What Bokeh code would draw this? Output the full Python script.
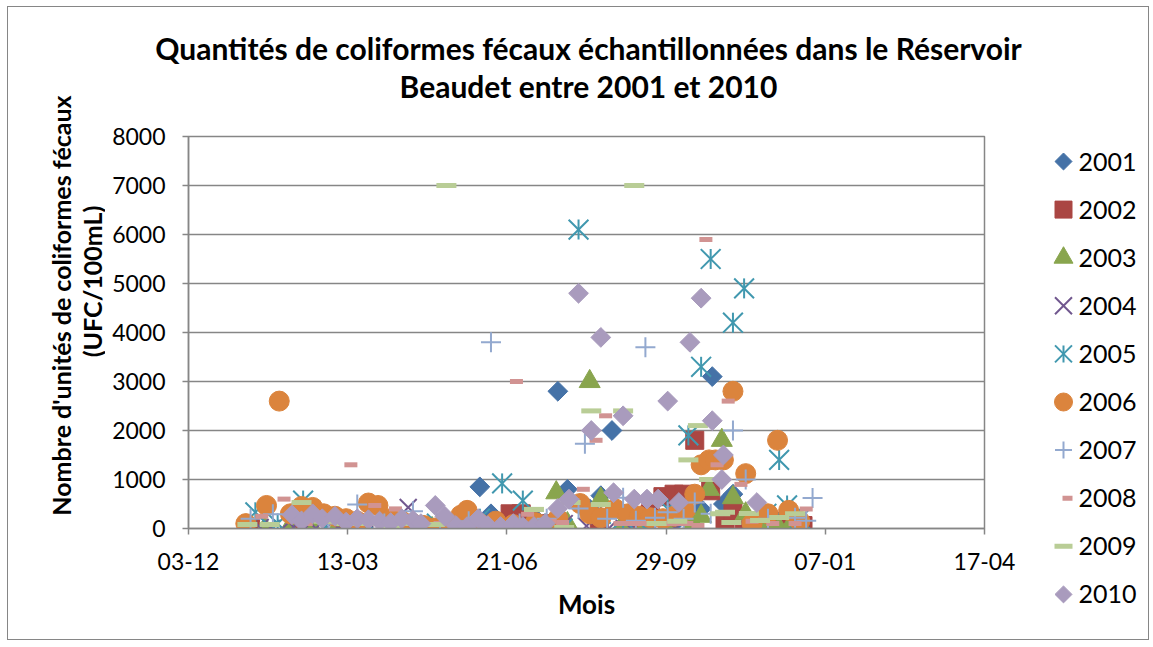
import math
from bokeh.plotting import figure
from bokeh.layouts import row, column
from bokeh.models import FixedTicker, Range1d, InlineStyleSheet
from bokeh.core.properties import value
from bokeh.embed import file_html
from bokeh.resources import INLINE

# x = day of year (Jan 1 = 1); axis ticks every 100 days starting 3 Dec
tick_days = [-28, 72, 172, 272, 372, 472]
tick_labels = ["03-12", "13-03", "21-06", "29-09", "07-01", "17-04"]
y_ticks = [0, 1000, 2000, 3000, 4000, 5000, 6000, 7000, 8000]
years = ["2001", "2002", "2003", "2004", "2005", "2006", "2007", "2008", "2009", "2010"]
title_lines = ["Quantités de coliformes fécaux échantillonnées dans le Réservoir",
               "Beaudet entre 2001 et 2010"]
ylabel_lines = ["Nombre d'unités de coliformes fécaux", "(UFC/100mL)"]

d2001 = [120, 140, 155, 162, 175, 190, 204, 210, 224, 231, 238, 252, 266, 280, 294, 301, 308, 314, 322]
v2001 = [60, 100, 850, 300, 150, 200, 2800, 800, 400, 670, 2000, 300, 250, 200, 400, 3100, 500, 700, 250]

d2002 = [11, 40, 75, 110, 150, 174, 181, 200, 230, 250, 262, 270, 277, 283, 290, 300, 309, 314, 321, 328, 333, 340, 350, 358]
v2002 = [0, 0, 0, 0, 50, 300, 300, 100, 150, 200, 300, 650, 700, 700, 1800, 770, 120, 350, 20, 100, 20, 150, 60, 60]

d2003 = [20, 35, 50, 65, 80, 95, 110, 125, 140, 155, 170, 185, 196, 203, 210, 224, 231, 245, 259, 273, 289, 294, 299, 307, 314, 322, 336, 343, 349]
v2003 = [0, 0, 0, 0, 0, 0, 0, 0, 0, 0, 0, 0, 50, 730, 100, 3000, 600, 100, 50, 80, 100, 250, 800, 1800, 630, 300, 100, 0, 0]

d2004 = [17, 24, 31, 38, 45, 52, 59, 66, 73, 80, 87, 94, 101, 110, 117, 124, 131, 138, 152, 166, 180, 194, 208, 222, 236, 250, 264, 278]
v2004 = [20, 0, 0, 30, 0, 0, 20, 0, 50, 0, 30, 50, 0, 430, 30, 0, 20, 0, 0, 50, 0, 0, 100, 50, 0, 0, 50, 0]

d2005 = [14, 28, 44, 58, 72, 86, 100, 114, 128, 142, 155, 169, 182, 196, 207, 217, 231, 245, 259, 273, 286, 294, 300, 314, 321, 335, 343, 348, 356]
v2005 = [330, 100, 570, 50, 100, 50, 100, 50, 100, 50, 200, 920, 570, 100, 0, 6100, 300, 200, 0, 400, 1900, 3300, 5500, 4200, 4900, 300, 1400, 470, 200]

d2006 = [8, 21, 29, 36, 43, 50, 57, 64, 71, 78, 85, 91, 99, 106, 113, 120, 127, 134, 143, 147, 155, 165, 176, 190, 204, 218, 224, 231, 240, 248, 255, 262, 270, 277, 284, 290, 294, 299, 303, 308, 314, 322, 326, 336, 342, 349, 356]
v2006 = [100, 470, 2600, 300, 450, 430, 300, 250, 200, 150, 520, 470, 200, 150, 100, 60, 10, 100, 270, 370, 100, 150, 80, 120, 200, 510, 300, 220, 400, 300, 250, 220, 200, 250, 370, 700, 1300, 1400, 1400, 1400, 2800, 1120, 100, 300, 1800, 370, 150]

d2007 = [11, 25, 43, 60, 78, 95, 113, 130, 148, 162, 180, 197, 217, 221, 235, 245, 253, 259, 265, 273, 283, 290, 300, 314, 322, 336, 353, 360, 364]
v2007 = [200, 290, 150, 100, 490, 100, 350, 100, 150, 3800, 100, 200, 410, 1730, 200, 630, 160, 3700, 220, 330, 200, 530, 300, 2000, 1000, 200, 220, 160, 620]

d2008 = [18, 32, 46, 60, 74, 89, 102, 116, 130, 144, 158, 178, 185, 199, 207, 220, 228, 234, 243, 250, 257, 264, 271, 278, 285, 292, 297, 304, 311, 319, 326, 339, 353, 360]
v2008 = [250, 600, 100, 150, 1300, 470, 400, 50, 100, 50, 100, 3000, 290, 150, 120, 800, 1800, 2300, 100, 100, 100, 100, 100, 100, 100, 60, 5900, 1300, 2600, 900, 150, 100, 100, 400]

d2009 = [9, 23, 43, 57, 71, 85, 99, 113, 127, 134, 148, 162, 176, 189, 208, 212, 225, 231, 245, 252, 266, 279, 286, 292, 299, 306, 309, 313, 324, 331, 343, 353]
v2009 = [80, 80, 530, 150, 100, 100, 50, 100, 80, 7000, 100, 50, 100, 390, 20, 530, 2400, 490, 2400, 7000, 100, 150, 1400, 2100, 1000, 300, 330, 120, 306, 163, 224, 300]

d2010 = [37, 43, 50, 56, 64, 71, 78, 85, 92, 99, 106, 113, 118, 127, 133, 140, 147, 154, 160, 168, 176, 182, 189, 196, 204, 211, 217, 225, 231, 239, 245, 252, 260, 267, 273, 280, 287, 294, 301, 307, 308, 329]
v2010 = [280, 150, 300, 200, 250, 130, 200, 180, 150, 120, 200, 170, 100, 470, 250, 60, 40, 200, 60, 40, 100, 40, 40, 100, 410, 600, 4800, 2000, 3900, 730, 2300, 600, 600, 600, 2600, 530, 3800, 4700, 2200, 1000, 1500, 530]

FONT = "Lato"
GRAY = "#868686"
C = {"2001": "#4572A7", "2002": "#AA4643", "2003": "#89A54E", "2004": "#71588F",
     "2005": "#4198AF", "2006": "#DB843D", "2007": "#93A9CF", "2008": "#D19392",
     "2009": "#B9CD96", "2010": "#A99BBD"}

border_css = InlineStyleSheet(css=""":host { position: relative; }
:host::after { content: ''; position: absolute; left: 7px; top: 6px; right: 1px; bottom: 4px;
  border: 1px solid #868686; pointer-events: none; z-index: 10; }""")

TOTAL_W, TOTAL_H = 1150, 644
YL_W = 105          # left strip holding the rotated y-axis title
HEAD_H = 110        # header strip holding the chart title
MAIN_R = 1040       # page x where the legend strip begins
BODY_H = TOTAL_H - HEAD_H


def blank(width, height, x0, x1, y_top, y_bottom):
    f = figure(width=width, height=height, output_backend="svg", toolbar_location=None,
               x_range=Range1d(x0, x1), y_range=Range1d(y_bottom, y_top),
               x_axis_type=None, y_axis_type=None, min_border=0,
               min_border_left=0, min_border_right=0, min_border_top=0, min_border_bottom=0,
               background_fill_color="white", border_fill_color="white")
    f.outline_line_color = None
    f.xgrid.grid_line_color = None
    f.ygrid.grid_line_color = None
    return f


# ---------------- left strip: y-axis title (y measured upward from page bottom) ----------------
yl = blank(YL_W, TOTAL_H, 0, YL_W, TOTAL_H, 0)
yl.text(x=[60, 91], y=[TOTAL_H - 305, TOTAL_H - 281], text=ylabel_lines, angle=math.pi / 2,
        text_align="center", text_baseline="middle", text_font=value(FONT),
        text_font_size="25px", text_font_style="bold", text_color="black")

# ---------------- header: chart title (page pixel coordinates) ----------------
hd = blank(TOTAL_W - YL_W, HEAD_H, YL_W, TOTAL_W, 0, HEAD_H)
hd.text(x=[588, 588], y=[47, 85], text=title_lines, text_align="center", text_baseline="middle",
        text_font=value(FONT), text_font_size="30px", text_font_style="bold", text_color="black")

# ---------------- main chart ----------------
p = figure(width=MAIN_R - YL_W, height=BODY_H, output_backend="svg", toolbar_location=None,
           x_range=Range1d(-28, 472), y_range=Range1d(0, 8000),
           min_border_left=188 - YL_W, min_border_right=MAIN_R - 984, min_border_top=136 - HEAD_H,
           min_border_bottom=116, background_fill_color="white", border_fill_color="white")
p.outline_line_color = GRAY
p.outline_line_width = 1.5

p.xaxis.ticker = FixedTicker(ticks=tick_days)
p.xaxis.major_label_overrides = {d: t for d, t in zip(tick_days, tick_labels)}
p.yaxis.ticker = FixedTicker(ticks=y_ticks)
for ax in (p.xaxis, p.yaxis):
    ax.axis_line_color = GRAY
    ax.axis_line_width = 1.5
    ax.major_tick_line_color = GRAY
    ax.major_tick_line_width = 1.5
    ax.major_tick_out = 6
    ax.major_tick_in = 0
    ax.minor_tick_line_color = None
    ax.major_label_text_font = FONT
    ax.major_label_text_font_size = "23px"
    ax.major_label_text_color = "black"
p.yaxis.major_label_standoff = 17
p.xaxis.major_label_standoff = 18
p.xaxis.axis_label = "Mois"
p.xaxis.axis_label_text_font = FONT
p.xaxis.axis_label_text_font_size = "26px"
p.xaxis.axis_label_text_font_style = "bold"
p.xaxis.axis_label_text_color = "black"
p.xaxis.axis_label_standoff = 15
p.xgrid.grid_line_color = None
p.ygrid.grid_line_color = GRAY
p.ygrid.grid_line_width = 1.5

p.scatter(d2001, v2001, marker="square", angle=math.pi / 4, size=14,
          fill_color=C["2001"], line_color=C["2001"])
p.scatter(d2002, v2002, marker="square", size=18, fill_color=C["2002"], line_color=C["2002"])
p.scatter(d2003, v2003, marker="triangle", size=21, fill_color=C["2003"], line_color=C["2003"])
p.scatter(d2004, v2004, marker="x", size=24, line_width=2, line_color=C["2004"])
p.scatter(d2005, v2005, marker="x", size=28, line_width=2, line_color=C["2005"])
p.scatter(d2005, v2005, marker="dash", angle=math.pi / 2, size=20, line_width=2, line_color=C["2005"])
p.scatter(d2006, v2006, marker="circle", size=20, fill_color=C["2006"], line_color=C["2006"])
p.scatter(d2007, v2007, marker="cross", size=20, line_width=2, line_color=C["2007"])
p.scatter(d2008, v2008, marker="dash", size=13, line_width=5, line_color=C["2008"])
p.scatter(d2009, v2009, marker="dash", size=20, line_width=5, line_color=C["2009"])
p.scatter(d2010, v2010, marker="square", angle=math.pi / 4, size=14,
          fill_color=C["2010"], line_color=C["2010"])

# ---------------- legend strip (page pixel coordinates) ----------------
lg = blank(TOTAL_W - MAIN_R, BODY_H, MAIN_R, TOTAL_W, HEAD_H, TOTAL_H)

ly = [161 + 48.1 * i for i in range(len(years))]
gx = 1063
lg.scatter([gx], [ly[0]], marker="square", angle=math.pi / 4, size=12, fill_color=C["2001"], line_color=C["2001"])
lg.scatter([gx], [ly[1]], marker="square", size=17, fill_color=C["2002"], line_color=C["2002"])
lg.scatter([gx], [ly[2]], marker="triangle", size=19, fill_color=C["2003"], line_color=C["2003"])
lg.scatter([gx], [ly[3]], marker="x", size=24, line_width=2, line_color=C["2004"])
lg.scatter([gx], [ly[4]], marker="x", size=24, line_width=2, line_color=C["2005"])
lg.scatter([gx], [ly[4]], marker="dash", angle=math.pi / 2, size=17, line_width=2, line_color=C["2005"])
lg.scatter([gx], [ly[5]], marker="circle", size=18, fill_color=C["2006"], line_color=C["2006"])
lg.scatter([gx], [ly[6]], marker="cross", size=17, line_width=2, line_color=C["2007"])
lg.scatter([gx + 4], [ly[7]], marker="dash", size=10, line_width=5, line_color=C["2008"])
lg.scatter([gx], [ly[8]], marker="dash", size=18, line_width=5, line_color=C["2009"])
lg.scatter([gx], [ly[9]], marker="square", angle=math.pi / 4, size=12, fill_color=C["2010"], line_color=C["2010"])
lg.text(x=[1078] * len(years), y=ly, text=years, text_baseline="middle", text_align="left",
        text_font=value(FONT), text_font_size="25px", text_color="black")

for fig in (yl, hd, p, lg):
    if "frame_align" in fig.properties():
        fig.frame_align = False

layout = row(yl, column(hd, row(p, lg)), stylesheets=[border_css])
open("out.html", "w").write(file_html(layout, INLINE))
